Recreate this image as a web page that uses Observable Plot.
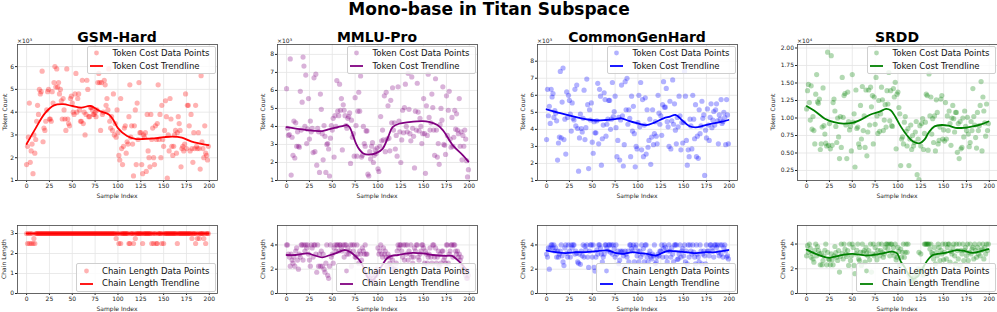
<!DOCTYPE html>
<html><head><meta charset="utf-8">
<script src="https://cdn.jsdelivr.net/npm/d3@7"></script>
<script src="https://cdn.jsdelivr.net/npm/@observablehq/plot@0.6"></script>
<style>
html,body{margin:0;padding:0;background:#fff;overflow:hidden;}
#fig{position:relative;width:997px;height:312px;overflow:hidden;font-family:"DejaVu Sans",sans-serif;color:#111;}
.t{position:absolute;white-space:nowrap;}
.legend{position:absolute;background:rgba(255,255,255,0.8);border:0.8px solid #cfcfcf;border-radius:2px;padding:0.5px 5px 0.5px 2.5px;font-size:8.5px;line-height:12.6px;color:#111;white-space:nowrap;}
.legend .row{display:flex;align-items:center;height:12.6px;}
.legend svg{flex:none;margin-right:9px;}
</style></head><body><div id="fig"></div>
<script>
// ---------- data ----------
const datasets = ["GSM-Hard", "MMLU-Pro", "CommonGenHard", "SRDD"];
const colors = ["#ff0000", "#800080", "#0000ff", "#008000"];
const xTicks = [0, 25, 50, 75, 100, 125, 150, 175, 200];

// Token cost (GSM/MMLU/CommonGen in thousands, SRDD in ten-thousands)
const gsmToken = [
1.7,2.5,2.9,4.4,1.8,2.3,2.6,1.3,3.0,2.2,
2.8,3.6,4.3,3.9,5.0,4.8,4.9,5.8,2.7,3.3,
3.2,3.6,4.1,4.9,5.0,3.7,3.7,3.6,4.9,4.4,
5.3,6.0,5.1,5.9,5.1,5.3,4.8,5.0,4.5,3.7,
4.6,4.1,3.7,3.2,5.9,3.7,3.5,3.4,4.6,4.7,
4.4,4.0,3.9,4.8,5.7,4.0,4.6,4.8,4.1,3.6,
3.6,5.4,3.5,4.0,3.0,3.9,5.4,5.0,3.8,3.8,
4.2,4.2,4.1,3.9,3.9,4.0,3.8,4.1,5.3,5.7,
5.3,3.2,5.3,3.9,4.0,5.4,5.2,4.3,4.6,4.1,
5.9,3.6,3.3,3.8,3.2,4.8,3.0,3.5,2.9,4.1,
3.1,2.1,1.9,4.6,2.4,1.7,2.5,3.3,3.4,2.2,
2.7,2.6,3.8,5.2,2.9,3.4,2.6,1.2,3.4,4.1,
1.7,4.4,2.8,5.3,3.1,3.1,1.7,1.3,3.0,2.9,
3.1,1.4,3.9,2.3,2.0,1.6,3.9,2.8,3.3,2.0,
1.7,3.4,2.8,3.5,5.2,2.8,3.9,2.0,4.3,2.8,
2.5,3.2,4.5,3.8,1.1,3.0,2.3,4.6,3.7,2.5,
2.1,2.5,3.0,3.2,2.2,3.1,3.8,3.5,3.2,1.6,
2.4,2.5,2.3,2.6,4.8,2.4,4.3,4.3,3.4,2.3,
3.9,2.4,1.8,3.1,2.4,4.3,2.5,2.4,3.1,2.4,
1.5,5.6,2.7,2.4,2.0,3.4,2.2,2.1,1.9,2.5];
const mmluToken = [
6.1,3.9,3.5,3.55,7.75,1.3,3.4,2.4,4.3,2.25,
4.2,2.9,3.7,2.9,2.85,5.95,3.8,5.35,7.85,7.35,
4.0,6.85,3.05,3.85,5.55,3.3,4.3,3.7,3.9,2.55,
6.7,2.6,6.9,1.85,3.9,3.7,1.45,5.8,4.95,3.6,
2.15,4.05,3.45,1.45,3.0,3.05,2.75,1.25,3.35,4.05,
3.8,4.45,2.3,4.6,4.0,6.55,4.85,4.6,6.35,4.9,
5.55,2.7,5.2,4.9,4.6,4.05,3.9,4.45,4.55,4.75,
1.95,4.35,3.4,3.6,2.35,5.6,4.05,2.35,4.85,5.9,
4.85,6.8,2.3,2.4,4.0,3.05,2.9,3.75,3.75,1.35,
1.25,2.6,2.2,2.9,3.1,2.0,2.4,2.7,2.5,2.8,
1.65,1.5,2.9,4.55,3.2,3.8,3.25,5.7,2.6,5.9,
3.3,5.15,3.35,2.65,5.45,4.2,6.15,3.8,4.2,2.75,
3.5,2.35,6.2,4.3,3.7,2.0,3.25,4.9,3.65,5.05,
6.35,4.0,3.7,6.95,4.95,3.6,3.2,6.75,3.9,3.45,
1.7,4.85,3.8,6.4,4.8,3.75,4.45,4.0,3.05,3.6,
5.55,3.6,1.4,5.15,3.5,6.9,4.5,3.8,4.2,5.8,
5.05,3.8,2.4,6.65,3.8,2.3,3.05,1.9,4.1,5.0,
4.35,6.2,3.0,2.95,2.45,5.7,3.5,4.9,5.95,3.3,
2.85,4.5,2.9,3.4,4.9,3.85,4.7,3.8,3.6,5.55,
2.9,3.7,2.15,3.5,2.9,3.8,3.3,2.1,1.2,1.6];
const cghToken = [
3.4,6.35,4.8,5.35,4.35,6.35,5.9,6.1,4.7,5.1,
4.95,4.5,2.2,3.2,3.55,7.4,3.5,5.6,7.6,3.4,
4.6,2.55,6.2,4.7,6.0,5.7,4.9,3.9,5.55,4.65,
4.55,6.35,4.2,6.6,4.05,1.55,3.5,4.9,4.05,3.85,
4.65,6.3,3.4,4.1,6.95,5.45,1.7,5.15,4.55,5.55,
3.25,2.6,4.45,3.8,3.8,4.5,6.7,3.15,6.35,5.95,
1.9,3.45,4.25,6.15,5.75,3.6,4.3,4.6,5.7,5.7,
4.0,4.6,6.75,4.75,5.05,5.95,4.1,2.4,3.35,4.7,
2.2,4.55,6.6,4.8,1.85,3.1,6.8,5.15,7.0,4.3,
5.15,4.65,2.4,5.95,3.9,5.35,3.75,1.8,3.0,2.85,
4.4,6.0,4.15,6.75,2.8,5.75,2.4,4.25,5.85,2.55,
5.15,2.95,3.35,4.6,1.95,3.55,5.15,3.1,3.75,4.45,
3.6,3.15,6.0,4.95,4.3,4.8,3.65,5.45,6.8,5.3,
5.3,6.4,4.45,4.15,3.0,5.65,2.85,4.5,6.9,4.3,
5.5,3.95,3.15,4.7,4.15,5.95,4.8,2.8,4.4,3.2,
4.4,7.4,5.95,3.35,1.9,2.8,2.4,4.6,4.2,2.85,
6.0,4.6,3.45,5.45,2.4,3.6,2.3,5.15,3.75,4.2,
5.65,4.65,4.85,1.3,3.95,3.5,5.2,4.25,3.35,4.7,
5.5,4.1,4.55,5.05,4.25,5.15,5.5,4.5,3.15,4.85,
4.6,5.75,4.35,4.45,5.0,4.7,3.1,5.75,4.85,3.15];
const srddToken = [
1.13,1.39,1.48,1.22,0.97,1.46,0.84,1.02,0.82,0.63,
1.34,1.62,1.23,1.21,1.27,0.55,0.63,0.87,1.43,0.89,
0.77,0.64,0.6,1.94,0.61,0.92,0.56,1.89,0.61,1.22,
1.27,1.1,0.88,0.65,1.0,0.73,0.42,1.02,0.58,1.58,
1.01,1.32,1.35,0.9,0.42,1.37,0.95,0.83,0.88,0.53,
1.62,0.94,1.06,0.3,1.4,0.85,0.87,0.63,0.58,1.18,
0.7,1.45,0.82,1.03,0.58,1.4,0.46,0.8,1.4,0.9,
1.44,1.16,1.32,0.63,1.3,0.91,1.58,1.03,0.78,1.25,
0.81,1.06,1.44,1.26,0.82,0.97,1.19,0.87,1.39,1.2,
1.65,0.96,1.39,0.89,0.88,1.42,1.3,1.51,0.56,1.34,
1.37,1.15,1.06,0.32,0.7,0.73,0.63,0.94,1.02,0.81,
0.6,0.85,0.32,0.7,0.9,0.55,0.75,0.6,0.65,0.8,
0.95,0.19,0.7,0.12,0.89,0.6,0.92,0.99,0.55,0.78,
0.94,1.34,1.32,0.54,1.63,1.03,1.3,0.77,0.99,0.65,
1.03,0.53,1.26,1.08,0.63,0.68,0.87,1.27,1.32,0.7,
0.83,0.67,1.22,0.7,1.03,0.82,1.1,0.92,0.61,1.0,
1.18,0.99,0.8,1.08,1.08,0.51,0.92,0.42,0.95,0.56,
0.58,1.0,0.73,1.1,0.88,0.82,1.01,0.77,0.59,0.65,
0.95,0.82,1.42,1.02,0.9,0.72,0.57,1.08,0.82,0.89,
1.18,1.52,0.53,1.3,1.1,0.93,0.74,1.2,0.82,0.92];

// Chain length
const gsmChain = [
3,2.5,3,2.5,3,2.5,3,2.5,2.75,2.5,
3,3,3,3,3,3,3,3,3,3,
3,3,3,3,3,3,3,3,3,3,
3,3,3,3,3,3,3,3,3,3,
3,3,3,3,3,3,3,3,3,3,
3,3,3,3,3,3,3,3,3,3,
3,3,3,3,3,3,3,3,3,3,
3,3,3,3,3,3,3,3,3,3,
3,3,3,3,3,3,3,3,3,3,
3,3,3,3,3,3,3,3,2.75,3,
3,2.5,3,2.5,3,3,3,3,3,3,
3,3,2.5,2.5,3,3,3,2.5,3,2.75,
3,3,3,3,3,3,3,2.5,3,3,
3,3,3,3,3,3,3,2.5,3,2.5,
3,3,2.5,2.5,3,3,3,3,2.5,3,
2.5,3,3,3,3,3,3,3,3,3,
3,3,3,3,3,2.5,3,3,3,3,
3,3,3,3,3,3,3,3,3,3,
3,2.75,3,3,3,2.5,3,2.75,3,2.75,
3,3,3,3,2.75,3,2.5,3,3,3];
const mmluChain = [
4,4,3.25,3,2.25,3.25,2.75,2.5,3,2.25,
3.5,3.75,2.75,2,3.25,3,4,4,2.75,4,
3.5,4,3.75,4,3.25,2.75,2.25,4,3.75,3,
4,4,3.25,1.75,4,2.25,3.25,2.25,3.5,2.25,
3.25,2,1.75,2.5,4,1.5,1.25,2.25,4,3,
3.25,2.5,3.75,4,3.5,4,4,3.5,4,4,
3.75,3.5,4,3,4,4,3.25,3.75,3.25,3.5,
4,2.25,4,3.5,4,3,3,4,3.25,2.5,
3.5,3.25,2.75,3.75,3.5,3.25,4,3.25,3.25,1.5,
1.0,1.25,1.0,1.5,1.0,1.25,1.0,1.75,1.5,2.0,
3.75,3.25,3.5,4,3.25,3,3.75,3.25,3.5,3,
2.25,3.25,3,2.5,3,2.25,2.75,2.0,1.75,2.0,
2.5,3.5,4,3.75,4,4,3.5,3,4,2.75,
4,3.25,4,2.75,3.5,3.25,4,3,2.5,3,
3.75,3.5,4,4,3,2.75,3.25,3.5,4,4,
3.75,2.5,3.5,3.25,2.5,3,3.25,3.75,3.0,2.5,
4,4,3,3.75,2.5,3,3.5,2.25,3.25,2.5,
3.5,3.5,2.75,3,2.5,4,4,2.5,3.25,3.5,
4,4,3,4,4,3.5,3.25,3.5,3,3.25,
2.75,3,2.25,2,1.75,1.75,1.5,1.25,1.25,1.5];
const cghChain = [
3.25,3,3.75,2.0,3.75,4,4,3.75,4,3.5,
3.75,3,3.5,3,3.25,3.5,4,3.1,2.6,2.3,
3.75,4,3.3,3,4,3.5,3,4,3.75,4,
4,3.25,3.5,3.3,2.6,2.5,3.25,2.4,3.5,3.1,
4,3,3.9,3.6,4,3,2.15,3.5,4,4,
3,4,2.15,1.85,3,3.6,3.25,4,4,3.75,
3.25,2.6,3,3.25,4,4,3.75,3.5,4,4,
3.4,4,3.25,4,3.7,3,4,3.25,3.5,2.45,
2.75,3.5,3.4,3.5,3.1,2.15,3.5,3.25,3,3.5,
2.6,4,4,3.7,3.5,4,2.6,3.8,4,3.1,
3.5,2.6,3.5,3,4,3.25,3.7,2.6,4,4,
3,2.6,3.25,3.5,3,2.85,3.25,3.1,4,2.45,
2.6,3,3.25,3.1,3.5,3.5,4,3,3.7,4,
3.8,3,2.6,3.5,4,3.5,3,3.75,3.25,2.6,
4,4,4,2.8,2.85,3.25,4,3,3.5,3.7,
3.1,4,2.6,3.5,2.45,4,3,4,3.5,3.25,
4,3.4,3,2.45,4,3.25,3,2.6,4,3.5,
2.45,3.25,3.5,3.1,2.45,4,3.5,3.5,3.1,4,
4,3.75,3.5,3,4,4,3.8,4,3.4,3.1,
4,3.25,4,3,3.75,4,3.5,3,3.1,2.85];
const srddChain = [
3.05,3.87,3.33,4,3.65,2.93,3.25,2.8,2.53,3.5,
4,3.05,3.8,3.47,3.2,2.32,3.25,2.32,2.67,3.05,
3.5,4,2.32,3.33,2.8,2.72,2.32,3.2,2.72,2.32,
3.05,3.8,3.3,2.93,2.67,3.47,1.73,3.0,4,3.25,
2.8,4,3.6,3.2,3.0,3.47,2.27,4,2.67,3.05,
4,3.73,2.27,1.6,3.2,3.5,4,2.8,2.67,3.33,
2.27,4,3.33,3.47,2.53,3.73,3.3,3.05,3.47,2.72,
4,1.73,3.2,4,3.05,3.73,3.2,2.72,3.5,4,
3.05,3.47,4,3.33,2.93,3.2,3.73,4,4,3.6,
4,3.05,4,4,3.33,3.73,3.05,4,2.72,2.93,
3.73,3.4,2.27,3.6,2.93,3.33,4,2.93,3.33,4,
3.33,4,1.5,1.0,1.25,1.0,1.0,1.25,1.5,1.0,
1.75,1.5,2.0,3.33,1.8,3.2,1.75,2.0,1.5,4,
4,4,4,4,4,3.6,4,3.3,3.2,2.8,
3.73,2.4,3.33,3.05,4,3.73,2.67,3.5,3.2,4,
2.72,3.33,4,2.8,3.73,4,4,2.53,3.4,3.2,
3.73,4,3.05,2.4,4,3.47,2.8,4,2.27,3.5,
3.2,4,2.67,3.47,3.73,3.05,4,2.67,3.33,4,
3.2,3.6,3.73,2.8,4,3.47,2.93,3.73,3.2,4,
3.05,3.47,3.6,4,2.8,3.73,3.2,4,3.47,4];

// Trendlines (sample index, value)
const gsmTokenTrendX = [0,10,20,30,40,50,60,70,80,90,95,100,110,120,130,140,150,160,170,180,190,199];
const gsmTokenTrendY = [2.6,3.3,3.95,4.3,4.35,4.27,4.2,4.27,4.05,3.9,3.65,3.3,2.95,2.82,2.83,2.85,2.9,2.93,2.88,2.72,2.62,2.55];
const mmluTokenTrendX = [0,10,23,30,39,47,55,63,66,69,72,76,80,84,90,98,105,111,116,123,134,149,156,165,171,182,193,199];
const mmluTokenTrendY = [3.96,3.88,3.8,3.76,3.74,3.85,3.95,4.05,4.08,3.96,3.6,3.05,2.7,2.5,2.44,2.52,2.76,3.4,3.96,4.15,4.24,4.3,4.25,4.08,3.8,2.95,2.4,2.05];
const cghTokenTrendX = [0,15,30,45,55,65,75,82,90,100,109,118,128,135,141,148,156,163,172,182,192,199];
const cghTokenTrendY = [5.18,4.95,4.75,4.58,4.52,4.55,4.6,4.65,4.5,4.35,4.25,4.4,4.65,4.75,4.85,4.55,4.2,4.12,4.22,4.35,4.45,4.55];
const srddTokenTrendX = [0,10,20,30,40,50,60,70,80,87,92,97,103,110,117,124,129,134,140,148,155,163,172,182,191,199];
const srddTokenTrendY = [1.17,1.09,0.99,0.94,0.92,0.93,0.98,1.05,1.09,1.13,1.11,1.02,0.88,0.75,0.66,0.64,0.69,0.8,0.88,0.9,0.89,0.86,0.86,0.88,0.91,0.95];

const gsmChainTrendX = [0,199];
const gsmChainTrendY = [3,3];
const mmluChainTrendX = [0,10,23,30,39,47,55,63,69,76,81,85,89,94,98,102,106,110,115,122,138,149,160,174,181,189,196,199];
const mmluChainTrendY = [3.17,3.17,3.3,3.15,2.98,3.15,3.35,3.58,3.45,3.03,2.62,2.0,1.3,1.1,1.4,2.0,2.5,2.9,3.1,3.17,3.35,3.3,3.17,3.1,3.1,2.62,2.05,1.85];
const cghChainTrendX = [0,10,21,32,43,54,67,76,85,94,101,110,120,131,141,153,164,174,185,196,199];
const cghChainTrendY = [3.54,3.4,3.33,3.4,3.4,3.48,3.54,3.33,3.27,3.4,3.33,3.27,3.13,3.48,3.48,3.4,3.33,3.4,3.4,3.54,3.58];
const srddChainTrendX = [0,10,21,25,36,50,65,80,94,99,103,108,112,117,122,126,129,133,138,152,164,171,182,193,199];
const srddChainTrendY = [3.55,3.2,2.93,2.88,3.07,3.2,3.07,3.2,3.39,3.25,2.6,2.05,1.5,1.2,1.4,1.9,2.3,2.75,3.1,3.28,3.5,3.47,3.28,3.47,3.58];

// y-axis ticks
const tokenTicks = [[1,2,3,4,5,6],[1,2,3,4,5,6,7,8],[1,2,3,4,5,6,7,8],[0.25,0.5,0.75,1.0,1.25,1.5,1.75,2.0]];
const tokenDomains = [[1,6.97],[1,8.55],[1,8.98],[0.107,2.05]];
const tokenOffsets = ["×10³","×10³","×10³","×10⁴"];
const chainTicks = [[0,1,2,3],[0,2,4],[0,2,4],[0,2,4]];
const chainDomains = [[0,3.4],[0,5.6],[0,5.6],[0,5.5]];

// ---------- layout ----------
const fig = document.getElementById("fig");
const xDomain = [-9.95, 208.95];
const FW = 200;
const frameLeft = c => 17 + 260 * c;

function addText(txt, x, y, css, rotate) {
  const d = document.createElement("div");
  d.className = "t";
  d.textContent = txt;
  d.style.left = x + "px";
  d.style.top = y + "px";
  d.style.transform = "translate(-50%,-50%)" + (rotate ? " rotate(-90deg)" : "");
  Object.assign(d.style, css);
  fig.appendChild(d);
  return d;
}

function panel(o) {
  const FL = frameLeft(o.col);
  const ML = 30, MR = 4;
  const isTop = o.row === 0;
  const top = isTop ? 40 : 215;
  const H = isTop ? 160 : 97;
  const MT = isTop ? 4 : 10;
  const MB = isTop ? 20 : 19;
  const pts = o.values.map((v, i) => ({i, v}));
  const tr = o.trendX.map((x, k) => ({x, y: o.trendY[k]}));
  const svg = Plot.plot({
    width: ML + FW + MR, height: H,
    marginLeft: ML, marginRight: MR, marginTop: MT, marginBottom: MB,
    style: {fontFamily: "DejaVu Sans", fontSize: "6px", background: "transparent", color: "#222", overflow: "visible"},
    x: {domain: xDomain, ticks: xTicks, tickSize: 2, tickPadding: 1, label: null},
    y: {domain: o.yDomain, ticks: o.yTicks, tickSize: 2, tickPadding: 1.5, label: null, tickFormat: o.yFormat},
    marks: [
      Plot.ruleX(xTicks, {stroke: "#e4e4e4", strokeWidth: 0.8}),
      Plot.ruleY(o.yTicks, {stroke: "#e4e4e4", strokeWidth: 0.8}),
      Plot.dot(pts, {x: "i", y: "v", r: 2.6, fill: o.color, fillOpacity: 0.3, clip: true}),
      Plot.line(tr, {x: "x", y: "y", stroke: o.color, strokeWidth: 1.8, curve: "catmull-rom", clip: true}),
      Plot.frame({stroke: "#444", strokeWidth: 0.8})
    ]
  });
  svg.style.position = "absolute";
  svg.style.left = (FL - ML) + "px";
  svg.style.top = top + "px";
  svg.style.maxWidth = "none";
  fig.appendChild(svg);
}

function legend(col, isTop, color, l1, l2) {
  const FL = frameLeft(col);
  const d = document.createElement("div");
  d.className = "legend";
  d.style.right = (997 - (FL + FW) + 1.5) + "px";
  if (isTop) d.style.top = "45.5px"; else d.style.bottom = (312 - 293 + 1.5) + "px";
  d.innerHTML =
    `<div class="row"><svg width="13" height="10"><circle cx="6.5" cy="5" r="2.4" fill="${color}" fill-opacity="0.3"/></svg><span>${l1}</span></div>` +
    `<div class="row"><svg width="13" height="10"><line x1="0" x2="13" y1="5" y2="5" stroke="${color}" stroke-width="1.8"/></svg><span>${l2}</span></div>`;
  fig.appendChild(d);
}

const tokens = [gsmToken, mmluToken, cghToken, srddToken];
const chains = [gsmChain, mmluChain, cghChain, srddChain];
const tokenTrends = [[gsmTokenTrendX, gsmTokenTrendY],[mmluTokenTrendX, mmluTokenTrendY],[cghTokenTrendX, cghTokenTrendY],[srddTokenTrendX, srddTokenTrendY]];
const chainTrends = [[gsmChainTrendX, gsmChainTrendY],[mmluChainTrendX, mmluChainTrendY],[cghChainTrendX, cghChainTrendY],[srddChainTrendX, srddChainTrendY]];
const tokenLabelDx = [13, 15, 15, 25];
const chainLabelDx = [14.5, 15, 15, 15.3];

// main title
addText("Mono-base in Titan Subspace", 489, 9, {fontSize: "17px", fontWeight: "bold", color: "#000"});

for (let c = 0; c < 4; c++) {
  const FL = frameLeft(c);
  panel({col: c, row: 0, values: tokens[c], trendX: tokenTrends[c][0], trendY: tokenTrends[c][1],
         color: colors[c], yDomain: tokenDomains[c], yTicks: tokenTicks[c],
         yFormat: c === 3 ? d3.format(".2f") : d3.format("d")});
  panel({col: c, row: 1, values: chains[c], trendX: chainTrends[c][0], trendY: chainTrends[c][1],
         color: colors[c], yDomain: chainDomains[c], yTicks: chainTicks[c], yFormat: d3.format("d")});
  addText(datasets[c], FL + FW / 2, 37, {fontSize: "14px", fontWeight: "bold", color: "#000"});
  const off = addText(tokenOffsets[c], FL, 40, {fontSize: "6px", color: "#222"});
  off.style.transform = "translate(0,-50%)";
  addText("Token Count", FL - tokenLabelDx[c], 112, {fontSize: "6px", color: "#222"}, true);
  addText("Chain Length", FL - chainLabelDx[c], 259, {fontSize: "6px", color: "#222"}, true);
  addText("Sample Index", FL + FW / 2, 195, {fontSize: "6px", color: "#222"});
  addText("Sample Index", FL + FW / 2, 308, {fontSize: "6px", color: "#222"});
  legend(c, true, colors[c], "Token Cost Data Points", "Token Cost Trendline");
  legend(c, false, colors[c], "Chain Length Data Points", "Chain Length Trendline");
}
</script></body></html>
